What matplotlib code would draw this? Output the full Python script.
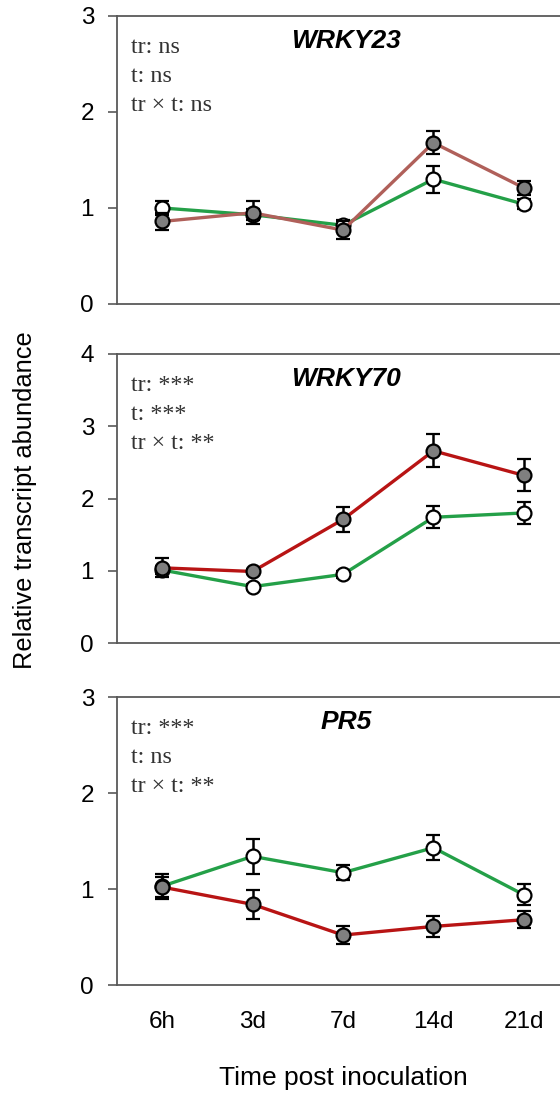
import matplotlib
matplotlib.use("Agg")
import matplotlib.pyplot as plt

# time points
times = ["6h", "3d", "7d", "14d", "21d"]

# WRKY23
w23_ctrl = [1.00, 0.93, 0.82, 1.30, 1.04]
w23_ctrl_err = [0.07, 0.06, 0.06, 0.14, 0.05]
w23_trt = [0.86, 0.95, 0.77, 1.68, 1.21]
w23_trt_err = [0.09, 0.12, 0.09, 0.12, 0.07]

# WRKY70
w70_ctrl = [1.01, 0.78, 0.95, 1.74, 1.80]
w70_ctrl_err = [0.05, 0.04, 0.05, 0.15, 0.15]
w70_trt = [1.04, 0.99, 1.71, 2.66, 2.32]
w70_trt_err = [0.13, 0.04, 0.17, 0.23, 0.22]

# PR5
pr5_ctrl = [1.03, 1.34, 1.17, 1.43, 0.94]
pr5_ctrl_err = [0.13, 0.18, 0.08, 0.13, 0.11]
pr5_trt = [1.02, 0.84, 0.52, 0.61, 0.68]
pr5_trt_err = [0.10, 0.15, 0.09, 0.11, 0.09]

genes = ["WRKY23", "WRKY70", "PR5"]
stats = [["tr: ns", "t: ns", "tr \u00d7 t: ns"],
         ["tr: ***", "t: ***", "tr \u00d7 t: **"],
         ["tr: ***", "t: ns", "tr \u00d7 t: **"]]
ymax = [3, 4, 3]

panels = [(w23_ctrl, w23_ctrl_err, w23_trt, w23_trt_err),
          (w70_ctrl, w70_ctrl_err, w70_trt, w70_trt_err),
          (pr5_ctrl, pr5_ctrl_err, pr5_trt, pr5_trt_err)]

green = "#24A048"
reds = ["#B0605A", "#B81414", "#B81414"]
spine_col = "#595959"

W, H = 560, 1094
fig = plt.figure(figsize=(W / 100, H / 100), dpi=100)

# axes pixel boxes (top, bottom) in image coords
boxes = [(16, 304), (354, 643), (697, 985)]
left_px, right_px = 117, 569

x = list(range(len(times)))
for i, (c, ce, t, te) in enumerate(panels):
    top, bot = boxes[i]
    ax = fig.add_axes([left_px / W, 1 - bot / H, (right_px - left_px) / W, (bot - top) / H])
    ax.errorbar(x, c, yerr=ce, color=green, lw=2.4, marker="o", ms=10,
                mfc="white", mec="black", mew=1.6, ecolor="black",
                elinewidth=1.8, capsize=5, capthick=1.8, zorder=3)
    ax.errorbar(x, t, yerr=te, color=reds[i], lw=2.4, marker="o", ms=10,
                mfc="#7F7F7F", mec="black", mew=1.6, ecolor="black",
                elinewidth=1.8, capsize=5, capthick=1.8, zorder=4)
    ax.set_xlim(-0.5, 4.5)
    ax.set_ylim(0, ymax[i])
    ax.set_yticks(range(ymax[i] + 1))
    ax.spines["right"].set_visible(False)
    for s in ["left", "top", "bottom"]:
        ax.spines[s].set_color(spine_col)
        ax.spines[s].set_linewidth(1.3)
    ax.tick_params(axis="y", direction="out", length=6.5, width=1.2,
                   color=spine_col, pad=10, labelsize=17.5)
    ax.tick_params(axis="x", length=0, pad=19, labelsize=17.5)
    ax.set_xticks(x)
    if i == 2:
        ax.set_xticklabels(times)
    else:
        ax.set_xticklabels([])
    for lab in ax.get_xticklabels() + ax.get_yticklabels():
        lab.set_fontfamily("Liberation Sans")

    hpx = bot - top
    ax.text(0.507, 1 - 25 / hpx, genes[i], transform=ax.transAxes,
            ha="center", va="center", fontsize=19, fontweight="bold",
            fontstyle="italic", family="Liberation Sans")
    for j, line in enumerate(stats[i]):
        ax.text(0.031, 1 - (37 + 29 * j) / hpx, line, transform=ax.transAxes,
                ha="left", va="baseline", fontsize=17.3, color="#333333",
                family="Liberation Serif")

fig.text(25 / W, 1 - 500 / H, "Relative transcript abundance", rotation=90,
         ha="center", va="center", fontsize=18.4, family="Liberation Sans")
fig.text(343 / W, 1 - 1078 / H, "Time post inoculation",
         ha="center", va="center", fontsize=19, family="Liberation Sans")

fig.savefig("out.png", dpi=100)
